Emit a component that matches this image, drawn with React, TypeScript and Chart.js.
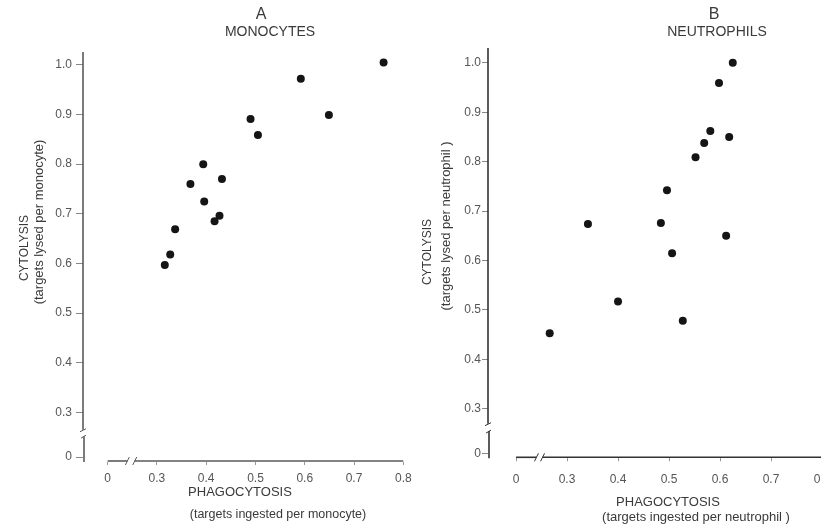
import React, { useEffect, useRef } from "react";
import { Chart, registerables } from "chart.js";

Chart.register(...registerables);

// ---------- data ----------
const monoPhagocytosis = [0.76, 0.592, 0.649, 0.49, 0.505, 0.394, 0.432, 0.368, 0.396, 0.427, 0.417, 0.337, 0.327, 0.316];
const monoCytolysis = [1.005, 0.972, 0.899, 0.891, 0.859, 0.8, 0.77, 0.76, 0.725, 0.696, 0.685, 0.669, 0.618, 0.597];

const neutPhagocytosis = [0.625, 0.598, 0.581, 0.618, 0.569, 0.552, 0.496, 0.341, 0.484, 0.612, 0.506, 0.4, 0.527, 0.266];
const neutCytolysis = [1.0, 0.959, 0.862, 0.85, 0.838, 0.809, 0.742, 0.674, 0.676, 0.65, 0.615, 0.517, 0.478, 0.453];

const xTickValues = [0.2, 0.3, 0.4, 0.5, 0.6, 0.7, 0.8];
const xTickLabels = ["0", "0.3", "0.4", "0.5", "0.6", "0.7", "0.8"];
const yTickValues = [0.21, 0.3, 0.4, 0.5, 0.6, 0.7, 0.8, 0.9, 1.0];
const yTickLabels = ["0", "0.3", "0.4", "0.5", "0.6", "0.7", "0.8", "0.9", "1.0"];

const FONT = "'Liberation Sans', Arial, sans-serif";

type TextItem = { text: string; x: number; y: number; size: number; rotate?: boolean };

const decorPlugin = {
  id: "decor",
  afterDraw(chart: any, _args: any, opts: any) {
    const { ctx, chartArea, scales } = chart;
    const xs = scales.x;
    const ys = scales.y;
    ctx.save();
    ctx.strokeStyle = opts.axisColor;
    ctx.lineWidth = opts.axisWidth;
    ctx.lineCap = "butt";
    const seg = (x1: number, y1: number, x2: number, y2: number) => {
      ctx.beginPath();
      ctx.moveTo(x1, y1);
      ctx.lineTo(x2, y2);
      ctx.stroke();
    };
    // y axis with break
    const ax = chartArea.left;
    const yb1 = ys.getPixelForValue(opts.yBreak[0]);
    const yb2 = ys.getPixelForValue(opts.yBreak[1]);
    seg(ax, chartArea.top, ax, yb1);
    ctx.lineWidth = 1;
    seg(ax - 3, yb1 + 2, ax + 3, yb1 - 1);
    seg(ax - 2, yb2 + 1, ax + 3, yb2 - 2);
    ctx.lineWidth = opts.axisWidth;
    seg(ax + 1, yb2 - 1, ax + 1, chartArea.bottom);
    // x axis with break
    const ay = chartArea.bottom - 1;
    const x0 = xs.getPixelForValue(xTickValues[0]);
    const xb1 = xs.getPixelForValue(opts.xBreak[0]);
    const xb2 = xs.getPixelForValue(opts.xBreak[1]);
    seg(x0, ay, xb1, ay);
    ctx.lineWidth = 1;
    seg(xb1 - 2, ay + 4, xb1 + 2, ay - 4);
    seg(xb2 - 2, ay + 4, xb2 + 2, ay - 4);
    ctx.lineWidth = opts.axisWidth;
    seg(xb2, ay, chartArea.right, ay);

    // texts
    ctx.fillStyle = opts.textColor;
    ctx.textAlign = "center";
    ctx.textBaseline = "middle";
    (opts.texts as TextItem[]).forEach((t) => {
      ctx.save();
      ctx.font = `${t.size}px ${FONT}`;
      ctx.translate(t.x, t.y);
      if (t.rotate) ctx.rotate(-Math.PI / 2);
      ctx.fillText(t.text, 0, 0);
      ctx.restore();
    });
    ctx.restore();
  },
};

type PanelProps = {
  left: number;
  width: number;
  px: number[];
  py: number[];
  xMin: number;
  xMax: number;
  yMin: number;
  yMax: number;
  yAxisWidth: number;
  xAxisHeight: number;
  padTop: number;
  padRight: number;
  xLabelPad: number;
  yTickLen: number;
  yLabelPad: number;
  xBreak: number[];
  yBreak: number[];
  texts: TextItem[];
  axisColor: string;
};

function Panel(p: PanelProps) {
  const ref = useRef<HTMLCanvasElement | null>(null);
  useEffect(() => {
    if (!ref.current) return;
    const chart = new Chart(ref.current, {
      type: "scatter",
      data: {
        datasets: [
          {
            data: p.px.map((x, i) => ({ x, y: p.py[i] })),
            backgroundColor: "#151515",
            borderColor: "#151515",
            pointRadius: 4,
            pointBorderWidth: 0,
          },
        ],
      },
      plugins: [decorPlugin],
      options: {
        animation: false,
        responsive: false,
        layout: { padding: { top: p.padTop, right: p.padRight, left: 0, bottom: 0 } },
        plugins: {
          legend: { display: false },
          tooltip: { enabled: false },
          decor: {
            axisColor: p.axisColor,
            axisWidth: 1.6,
            textColor: "#3a3a3a",
            xBreak: p.xBreak,
            yBreak: p.yBreak,
            texts: p.texts,
          },
        } as any,
        scales: {
          x: {
            type: "linear",
            min: p.xMin,
            max: p.xMax,
            border: { display: false },
            grid: { display: true, drawOnChartArea: false, drawTicks: true, tickLength: 3, color: "#999" },
            afterBuildTicks: (s: any) => {
              s.ticks = xTickValues.map((v) => ({ value: v }));
            },
            afterFit: (s: any) => {
              s.height = p.xAxisHeight;
            },
            ticks: {
              autoSkip: false,
              maxRotation: 0,
              padding: p.xLabelPad,
              color: "#555",
              font: { family: FONT, size: 12 },
              callback: (_v: any, i: number) => xTickLabels[i],
            },
          },
          y: {
            type: "linear",
            min: p.yMin,
            max: p.yMax,
            border: { display: false },
            grid: { display: true, drawOnChartArea: false, drawTicks: true, tickLength: p.yTickLen, color: "#888" },
            afterBuildTicks: (s: any) => {
              s.ticks = yTickValues.map((v) => ({ value: v }));
            },
            afterFit: (s: any) => {
              s.width = p.yAxisWidth;
            },
            ticks: {
              autoSkip: false,
              padding: p.yLabelPad,
              color: "#555",
              font: { family: FONT, size: 12 },
              callback: (_v: any, i: number) => yTickLabels[i],
            },
          },
        },
      } as any,
    });
    return () => chart.destroy();
  }, []);
  return (
    <canvas
      ref={ref}
      width={p.width}
      height={531}
      style={{ position: "absolute", left: p.left, top: 0, width: p.width, height: 531 }}
    />
  );
}

export default function App() {
  const bx = 410;
  return (
    <div
      style={{
        position: "fixed",
        left: 0,
        top: 0,
        width: 821,
        height: 531,
        overflow: "hidden",
        background: "#fff",
      }}
    >
      <Panel
        left={0}
        width={430}
        px={monoPhagocytosis}
        py={monoCytolysis}
        xMin={0.15}
        xMax={0.8}
        yMin={0.2}
        yMax={1.026}
        yAxisWidth={83}
        xAxisHeight={69}
        padTop={52}
        padRight={26.7}
        xLabelPad={6}
        yTickLen={7}
        yLabelPad={4}
        xBreak={[0.24, 0.255]}
        yBreak={[0.265, 0.25]}
        axisColor="#5a5a5a"
        texts={[
          { text: "A", x: 261, y: 15, size: 16 },
          { text: "MONOCYTES", x: 270, y: 32, size: 14 },
          { text: "CYTOLYSIS", x: 25, y: 248, size: 12 , rotate: true },
          { text: "(targets lysed per monocyte)", x: 39, y: 222, size: 13, rotate: true },
          { text: "PHAGOCYTOSIS", x: 240, y: 492, size: 13 },
          { text: "(targets ingested per monocyte)", x: 278, y: 515, size: 12.5 },
        ]}
      />
      <Panel
        left={bx}
        width={440}
        px={neutPhagocytosis}
        py={neutCytolysis}
        xMin={0.145}
        xMax={0.8}
        yMin={0.2}
        yMax={1.03}
        yAxisWidth={78}
        xAxisHeight={72.7}
        padTop={48}
        padRight={28}
        xLabelPad={11}
        yTickLen={6}
        yLabelPad={1}
        xBreak={[0.24, 0.252]}
        yBreak={[0.27, 0.253]}
        axisColor="#333"
        texts={[
          { text: "B", x: 714 - bx, y: 15, size: 16 },
          { text: "NEUTROPHILS", x: 717 - bx, y: 32, size: 14 },
          { text: "CYTOLYSIS", x: 428 - bx, y: 252, size: 12, rotate: true },
          { text: "(targets lysed per neutrophil )", x: 446 - bx, y: 226, size: 13, rotate: true },
          { text: "PHAGOCYTOSIS", x: 668 - bx, y: 502, size: 13 },
          { text: "(targets ingested per neutrophil )", x: 696 - bx, y: 517, size: 13 },
        ]}
      />
    </div>
  );
}
